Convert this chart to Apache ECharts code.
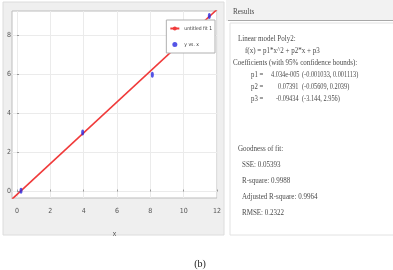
<!DOCTYPE html>
<html>
<head>
<meta charset="utf-8">
<script src="https://cdn.jsdelivr.net/npm/echarts@6/dist/echarts.min.js"></script>
<style>
  html, body { margin: 0; padding: 0; background: #fff; }
  #box { width: 393px; height: 270px; }
</style>
</head>
<body>
<div id="box"></div>
<script>
// data
var xTicks = [0, 2, 4, 6, 8, 10, 12];
var yTicks = [0, 2, 4, 6, 8];
var pointsX = [0.24, 3.94, 8.12, 11.54];
var pointsY = [0.04, 3.02, 5.99, 8.99];
var fitX = [-0.3, 12];
var fitY = [-0.39, 9.33];

// text, x, y, horizontal squeeze
var resultLines = [
    ['Results', 233, 12, 0.8],
    ['Linear model Poly2:', 238, 39, 0.78],
    ['f(x) = p1*x^2 + p2*x + p3', 245, 51, 0.78],
    ['Coefficients (with 95% confidence bounds):', 233, 63, 0.78],
    ['p1 =', 251, 75, 0.75], ['4.034e-005', 271, 75, 0.7], ['(-0.001033, 0.001113)', 302, 75, 0.7],
    ['p2 =', 251, 87, 0.75], ['0.07391', 278, 87, 0.7], ['(-0.05609, 0.2039)', 302, 87, 0.7],
    ['p3 =', 251, 99, 0.75], ['-0.09434', 276, 99, 0.7], ['(-3.144, 2.956)', 302, 99, 0.7],
    ['Goodness of fit:', 238, 149, 0.78],
    ['SSE: 0.05393', 242, 165, 0.78],
    ['R-square: 0.9988', 242, 181, 0.78],
    ['Adjusted R-square: 0.9964', 242, 197, 0.78],
    ['RMSE: 0.2322', 242, 213, 0.78]
];

var pts = pointsX.map(function (x, i) { return [x, pointsY[i]]; });
var fit = fitX.map(function (x, i) { return [x, fitY[i]]; });

var graphics = [
    // figure panel
    { type: 'rect', z: -10, shape: { x: 3, y: 2, width: 221, height: 233 },
      style: { fill: '#efefef', stroke: '#dcdcdc', lineWidth: 1 } },
    // results header + box
    { type: 'rect', z: -10, shape: { x: 226, y: 0, width: 167, height: 21 },
      style: { fill: '#f2f2f2' } },
    { type: 'line', z: -9, shape: { x1: 228, y1: 20.5, x2: 393, y2: 20.5 },
      style: { stroke: '#a8a8a8', lineWidth: 1 } },
    { type: 'rect', z: -10, shape: { x: 230, y: 23, width: 170, height: 212 },
      style: { fill: '#ffffff', stroke: '#e2e2e2', lineWidth: 1 } },
    // caption
    { type: 'text', x: 200, y: 264, style: { text: '(b)', fill: '#222',
      font: '10px "Liberation Serif"', align: 'center', verticalAlign: 'middle' } }
];
resultLines.forEach(function (r) {
    graphics.push({
        type: 'text', x: r[1], y: r[2], scaleX: r[3],
        style: { text: r[0], fill: '#4a4a4a', font: '9px "Liberation Serif"',
                 align: 'left', verticalAlign: 'middle' }
    });
});

var myChart = echarts.init(document.getElementById('box'));
var option = {
    animation: false,
    backgroundColor: '#ffffff',
    grid: {
        left: 12, right: 176, top: 11, bottom: 72,
        outerBoundsMode: 'none', containLabel: false,
        show: true, backgroundColor: '#ffffff', borderColor: '#bdbdbd', borderWidth: 1
    },
    legend: {
        orient: 'vertical', right: 178, top: 20,
        backgroundColor: '#ffffff', borderColor: '#b0b0b0', borderWidth: 1,
        padding: [6, 3, 6, 3], itemGap: 11, itemWidth: 9, itemHeight: 5,
        textStyle: { fontSize: 5, color: '#333', fontFamily: 'DejaVu Sans Condensed' },
        data: ['untitled fit 1', 'y vs. x']
    },
    xAxis: {
        type: 'value', min: -0.3, max: 12,
        name: 'x', nameLocation: 'middle', nameGap: 33,
        nameTextStyle: { fontSize: 7, color: '#555' },
        axisLine: { show: false },
        axisTick: { show: true, inside: true, length: 2, customValues: xTicks, lineStyle: { color: '#999' } },
        axisLabel: { customValues: xTicks, fontSize: 7, color: '#555', margin: 10,
                     fontFamily: 'DejaVu Sans Condensed' },
        splitLine: { show: true, lineStyle: { color: '#ebebeb', width: 1 } }
    },
    yAxis: {
        type: 'value', min: -0.33, max: 9.25,
        name: 'y', nameLocation: 'middle', nameGap: 9, nameRotate: 90,
        nameTextStyle: { fontSize: 6, color: '#555' },
        axisLine: { show: false },
        axisTick: { show: true, inside: true, length: 2, customValues: yTicks, lineStyle: { color: '#999' } },
        axisLabel: { customValues: yTicks, fontSize: 7, color: '#555', margin: 1,
                     fontFamily: 'DejaVu Sans Condensed' },
        splitLine: { show: true, lineStyle: { color: '#ebebeb', width: 1 } }
    },
    series: [
        {
            name: 'untitled fit 1', type: 'line', data: fit, symbol: 'none',
            clip: true, lineStyle: { color: '#f03a3a', width: 1.6 }, itemStyle: { color: '#f03a3a' }, z: 2
        },
        {
            name: 'y vs. x', type: 'scatter', data: pts, symbol: 'circle', symbolSize: [3, 6],
            itemStyle: { color: '#2a2ae0' }, z: 3
        }
    ],
    graphic: graphics
};
myChart.setOption(option);
</script>
</body>
</html>
